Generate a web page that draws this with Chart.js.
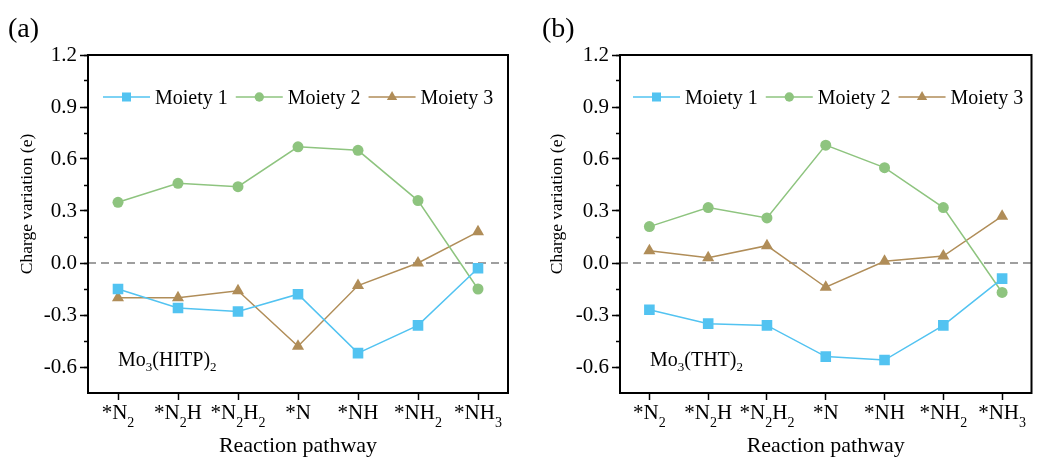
<!DOCTYPE html>
<html>
<head>
<meta charset="utf-8">
<title>Charge variation along the NRR pathway</title>
<script src="https://cdn.jsdelivr.net/npm/chart.js@4.4.1/dist/chart.umd.min.js"></script>
<style>
  html, body { margin: 0; padding: 0; background: #ffffff; }
  #wrap { position: relative; width: 1039px; height: 459px; overflow: hidden; }
  canvas { position: absolute; top: 0; }
  #panelA { left: 0; }
  #panelB { left: 520px; }
</style>
</head>
<body>
<div id="wrap">
  <canvas id="panelA" width="520" height="459"></canvas>
  <canvas id="panelB" width="519" height="459"></canvas>
</div>
<script>
// Reaction intermediates (digits after a letter are drawn as subscripts)
const categories = ['*N2', '*N2H', '*N2H2', '*N', '*NH', '*NH2', '*NH3'];
const seriesNames = ['Moiety 1', 'Moiety 2', 'Moiety 3'];

// Mo3(HITP)2
const hitpMoiety1 = [-0.15, -0.26, -0.28, -0.18, -0.52, -0.36, -0.03];
const hitpMoiety2 = [0.35, 0.46, 0.44, 0.67, 0.65, 0.36, -0.15];
const hitpMoiety3 = [-0.20, -0.20, -0.16, -0.48, -0.13, 0.00, 0.18];

// Mo3(THT)2
const thtMoiety1 = [-0.27, -0.35, -0.36, -0.54, -0.56, -0.36, -0.09];
const thtMoiety2 = [0.21, 0.32, 0.26, 0.68, 0.55, 0.32, -0.17];
const thtMoiety3 = [0.07, 0.03, 0.10, -0.14, 0.01, 0.04, 0.27];

// Labelled y ticks
const yTickValues = [-0.6, -0.3, 0.0, 0.3, 0.6, 0.9, 1.2];
const yMin = -0.75, yMax = 1.2;

const FONT = '"Liberation Serif", "Times New Roman", Times, serif';
const seriesColors = ['#52c3f1', '#8ec47f', '#b08d58'];
const seriesPoints = [
  { style: 'rect', radius: 7.5 },
  { style: 'circle', radius: 5.5 },
  { style: 'triangle', radius: 7 }
];

// Text where digits following a character are rendered as subscripts
function drawRich(ctx, text, x, y, size, subSize, subShift, align) {
  const runs = [];
  for (let i = 0; i < text.length; i++) {
    const ch = text[i];
    const sub = i > 0 && /\d/.test(ch);
    if (runs.length && runs[runs.length - 1].sub === sub) runs[runs.length - 1].t += ch;
    else runs.push({ t: ch, sub });
  }
  let total = 0;
  runs.forEach(r => {
    ctx.font = (r.sub ? subSize : size) + 'px ' + FONT;
    r.w = ctx.measureText(r.t).width;
    total += r.w;
  });
  let cx = align === 'center' ? x - total / 2 : x;
  ctx.textAlign = 'left';
  ctx.textBaseline = 'alphabetic';
  runs.forEach(r => {
    ctx.font = (r.sub ? subSize : size) + 'px ' + FONT;
    ctx.fillText(r.t, cx, r.sub ? y + subShift : y);
    cx += r.w;
  });
}

const decor = {
  id: 'decor',
  beforeDatasetsDraw(chart, args, o) {
    const { ctx, chartArea: a } = chart;
    const y0 = chart.scales.y.getPixelForValue(0);
    ctx.save();
    ctx.strokeStyle = '#808080';
    ctx.lineWidth = 1.5;
    ctx.setLineDash([8, 5]);
    ctx.beginPath();
    ctx.moveTo(a.left, y0);
    ctx.lineTo(a.right, y0);
    ctx.stroke();
    ctx.restore();
  },
  afterDraw(chart, args, o) {
    const { ctx, chartArea: a } = chart;
    const xs = chart.scales.x;
    ctx.save();
    // plot frame
    ctx.strokeStyle = '#000';
    ctx.lineWidth = 2;
    ctx.strokeRect(a.left, a.top, a.right - a.left, a.bottom - a.top);

    ctx.fillStyle = '#000';
    // category labels
    chart.data.labels.forEach((lab, i) => {
      drawRich(ctx, lab, xs.getPixelForValue(i), 419, 21, 14, 8, 'center');
    });

    // axis titles
    ctx.font = '22px ' + FONT;
    ctx.textAlign = 'center';
    ctx.textBaseline = 'alphabetic';
    ctx.fillText('Reaction pathway', (a.left + a.right) / 2, 452);

    ctx.save();
    ctx.translate(o.yTitleX, 204);
    ctx.rotate(-Math.PI / 2);
    ctx.font = '17.5px ' + FONT;
    ctx.textAlign = 'center';
    ctx.textBaseline = 'middle';
    ctx.fillText('Charge variation (e)', 0, 0);
    ctx.restore();

    // panel letter
    ctx.font = '28px ' + FONT;
    ctx.textAlign = 'left';
    ctx.textBaseline = 'alphabetic';
    ctx.fillText(o.letter, o.letterX, 37);

    // material label
    drawRich(ctx, o.material, a.left + 30, 366, 20, 13, 5, 'left');

    // legend: line segment + marker + name
    let lx = a.left + o.legendOffset;
    const ly = 97;
    chart.data.datasets.forEach(ds => {
      ctx.strokeStyle = ds.borderColor;
      ctx.lineWidth = 1.5;
      ctx.beginPath();
      ctx.moveTo(lx, ly);
      ctx.lineTo(lx + 47, ly);
      ctx.stroke();
      ctx.fillStyle = ds.backgroundColor;
      Chart.helpers.drawPoint(ctx, { pointStyle: ds.pointStyle, rotation: 0, radius: ds.pointRadius * 0.85, borderWidth: 0 }, lx + 23.5, ly);
      ctx.fillStyle = '#000';
      ctx.font = '20px ' + FONT;
      ctx.textAlign = 'left';
      ctx.textBaseline = 'alphabetic';
      ctx.fillText(ds.label, lx + 52, ly + 6.5);
      lx += 52 + ctx.measureText(ds.label).width + 8;
    });
    ctx.restore();
  }
};

function makePanel(canvasId, values, panel) {
  const datasets = values.map((vals, i) => ({
    label: seriesNames[i],
    data: vals,
    borderColor: seriesColors[i],
    backgroundColor: seriesColors[i],
    borderWidth: 1.5,
    tension: 0,
    pointStyle: seriesPoints[i].style,
    pointRadius: seriesPoints[i].radius,
    pointHoverRadius: seriesPoints[i].radius,
    pointBorderWidth: 0
  }));

  const isLabelled = v => yTickValues.some(t => Math.abs(t - v) < 1e-6);

  return new Chart(document.getElementById(canvasId), {
    type: 'line',
    data: { labels: categories, datasets },
    plugins: [decor],
    options: {
      responsive: false,
      animation: false,
      events: [],
      layout: { padding: { left: 0, top: 55, right: panel.rightPad, bottom: 0 } },
      plugins: {
        legend: { display: false },
        tooltip: { enabled: false },
        decor: panel
      },
      scales: {
        x: {
          type: 'category',
          offset: true,
          afterFit(s) { s.height = 66; },
          ticks: { display: false },
          grid: { offset: false, drawOnChartArea: false, drawTicks: true, tickLength: 7, tickWidth: 1.5, tickColor: '#000' },
          border: { display: false }
        },
        y: {
          type: 'linear',
          position: 'left',
          weight: 1,
          min: yMin,
          max: yMax,
          afterFit(s) { s.width = panel.yWidth; },
          ticks: {
            stepSize: 0.3,
            padding: 3,
            color: '#000',
            font: { family: FONT, size: 21 },
            callback: v => isLabelled(v) ? Number(v).toFixed(1) : ''
          },
          grid: {
            drawOnChartArea: false,
            drawTicks: true,
            tickLength: 8,
            tickWidth: 1.5,
            tickColor: c => (c.tick && isLabelled(c.tick.value)) ? '#000' : 'rgba(0,0,0,0)'
          },
          border: { display: false }
        },
        yMinor: {
          type: 'linear',
          position: 'left',
          weight: 0,
          min: yMin,
          max: yMax,
          afterFit(s) { s.width = 0; },
          ticks: { stepSize: 0.15, display: false },
          grid: {
            drawOnChartArea: false,
            drawTicks: true,
            tickLength: 4,
            tickWidth: 1.5,
            tickColor: c => (c.tick && c.tick.value > yMin + 1e-6) ? '#000' : 'rgba(0,0,0,0)'
          },
          border: { display: false }
        }
      }
    }
  });
}

makePanel('panelA', [hitpMoiety1, hitpMoiety2, hitpMoiety3], {
  letter: '(a)', letterX: 8, yTitleX: 27, yWidth: 88, rightPad: 12,
  legendOffset: 15, material: 'Mo3(HITP)2'
});
makePanel('panelB', [thtMoiety1, thtMoiety2, thtMoiety3], {
  letter: '(b)', letterX: 22, yTitleX: 37, yWidth: 100, rightPad: 3,
  legendOffset: 13, material: 'Mo3(THT)2'
});
</script>
</body>
</html>
